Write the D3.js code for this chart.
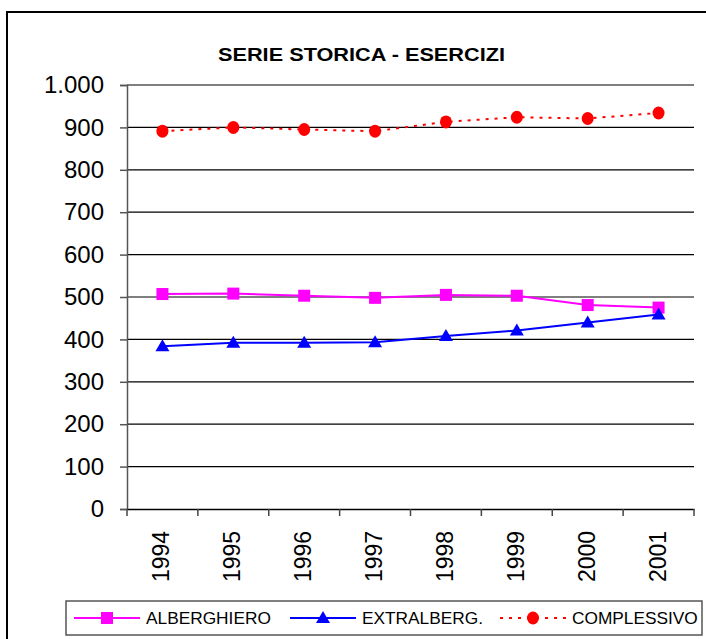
<!DOCTYPE html>
<html lang="it">
<head>
  <meta charset="UTF-8">
  <title>Serie storica - Esercizi</title>
  <script src="https://d3js.org/d3.v7.min.js"></script>
  <style>
    body { margin: 0; background: #fff; font-family: 'Liberation Sans', Arial, sans-serif; }
    svg { display: block; }
  </style>
</head>
<body>
<div id="chart"></div>
<script>
  const anni = ["1994", "1995", "1996", "1997", "1998", "1999", "2000", "2001"];
  const alberghiero = [507, 508, 503, 498, 505, 503, 481, 475];
  const extralberg = [384, 392, 392, 393, 408, 421, 440, 459];
  const complessivo = [891, 900, 895, 891, 913, 924, 921, 934];
  const yTicks = [0, 100, 200, 300, 400, 500, 600, 700, 800, 900, 1000];

  const W = 706, H = 639;
  const plot = { left: 127, right: 694, top: 85, bottom: 509 };

  const svg = d3.select("#chart").append("svg")
    .attr("width", W).attr("height", H);

  // cornice esterna
  svg.append("rect")
    .attr("x", 7).attr("y", 12)
    .attr("width", 720).attr("height", 660)
    .attr("fill", "none").attr("stroke", "#000").attr("stroke-width", 2);

  svg.append("text")
    .attr("x", 218).attr("y", 61)
    .attr("font-weight", "bold").attr("font-size", 18)
    .attr("textLength", 287).attr("lengthAdjust", "spacingAndGlyphs")
    .text("SERIE STORICA - ESERCIZI");

  const x = d3.scaleBand().domain(anni).range([plot.left, plot.right]);
  const y = d3.scaleLinear().domain([0, 1000]).range([plot.bottom, plot.top]);

  // griglia
  svg.append("g").selectAll("line")
    .data(yTicks.filter(d => d > 0))
    .join("line")
    .attr("x1", plot.left).attr("x2", plot.right)
    .attr("y1", d => y(d)).attr("y2", d => y(d))
    .attr("stroke", "#000").attr("stroke-width", 1.2);

  // asse y
  const fmt = d => d === 1000 ? "1.000" : String(d);
  const yAxis = svg.append("g")
    .attr("transform", `translate(${plot.left},0)`)
    .call(d3.axisLeft(y).tickValues(yTicks).tickFormat(fmt).tickSize(7).tickPadding(16));
  yAxis.select(".domain").attr("stroke", "#555").attr("stroke-width", 1.5);
  yAxis.selectAll(".tick line").attr("stroke", "#555").attr("stroke-width", 1.5);
  yAxis.selectAll("text")
    .attr("font-family", "'Liberation Sans', Arial, sans-serif")
    .attr("font-size", 24).attr("fill", "#000");

  // asse x
  const xAxis = svg.append("g")
    .attr("transform", `translate(0,${plot.bottom})`)
    .call(d3.axisBottom(x).tickSize(0).tickFormat(""));
  xAxis.select(".domain").attr("stroke", "#000").attr("stroke-width", 1.5);
  xAxis.selectAll(".tick").remove();

  svg.append("g").selectAll("line")
    .data(anni.map((d, i) => i).concat([anni.length]))
    .join("line")
    .attr("x1", i => plot.left + i * x.step())
    .attr("x2", i => plot.left + i * x.step())
    .attr("y1", plot.bottom).attr("y2", plot.bottom + 7)
    .attr("stroke", "#444").attr("stroke-width", 1.5);

  svg.append("g").selectAll("text")
    .data(anni)
    .join("text")
    .attr("transform", d => `translate(${x(d) + x.bandwidth() / 2 + 7},582) rotate(-90)`)
    .attr("font-size", 23)
    .text(d => d);

  const cx = d => x(d) + x.bandwidth() / 2;

  const series = [
    { name: "ALBERGHIERO", values: alberghiero, color: "#ff00ff", dash: null, marker: "square" },
    { name: "EXTRALBERG.", values: extralberg, color: "#0000ff", dash: null, marker: "triangle" },
    { name: "COMPLESSIVO", values: complessivo, color: "#ff0000", dash: "3,6", marker: "circle" }
  ];

  const drawMarker = (g, type, color) => {
    if (type === "square") {
      g.append("rect").attr("x", -6).attr("y", -6).attr("width", 12).attr("height", 12).attr("fill", color);
    } else if (type === "triangle") {
      g.append("path").attr("d", "M0,-7L7,5L-7,5Z").attr("fill", color);
    } else {
      g.append("ellipse").attr("rx", 6).attr("ry", 6.5).attr("fill", color);
    }
  };

  const line = d3.line().x((d, i) => cx(anni[i])).y(d => y(d));

  series.forEach(s => {
    svg.append("path")
      .datum(s.values)
      .attr("d", line)
      .attr("fill", "none")
      .attr("stroke", s.color)
      .attr("stroke-width", 2)
      .attr("stroke-dasharray", s.dash);
    s.values.forEach((v, i) => {
      const g = svg.append("g").attr("transform", `translate(${cx(anni[i])},${y(v)})`);
      drawMarker(g, s.marker, s.color);
    });
  });

  // legenda
  svg.append("rect")
    .attr("x", 66).attr("y", 601).attr("width", 636).attr("height", 34)
    .attr("fill", "#fff").attr("stroke", "#555").attr("stroke-width", 1.5);

  const legX = [74, 290, 500];
  series.forEach((s, i) => {
    const g = svg.append("g").attr("transform", `translate(${legX[i]},618)`);
    g.append("line").attr("x1", 0).attr("x2", 66)
      .attr("stroke", s.color).attr("stroke-width", 2)
      .attr("stroke-dasharray", s.dash);
    drawMarker(g.append("g").attr("transform", "translate(33,0)"), s.marker, s.color);
    g.append("text").attr("x", 72).attr("y", 6)
      .attr("font-size", 17.3).text(s.name);
  });
</script>
</body>
</html>
